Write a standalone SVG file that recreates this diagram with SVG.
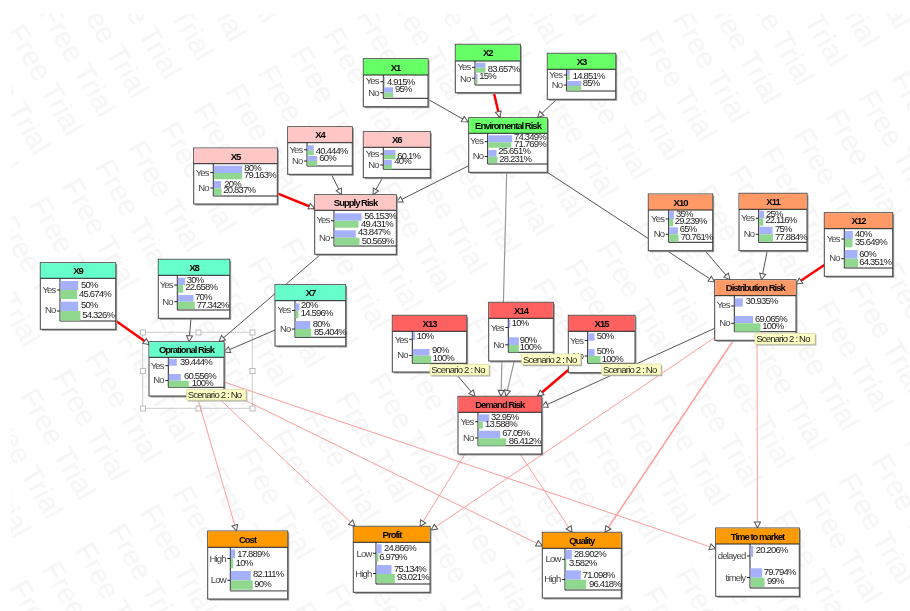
<svg xmlns="http://www.w3.org/2000/svg" width="910" height="611" viewBox="0 0 910 611">
<style>
text{font-family:"Liberation Sans",Arial,sans-serif;font-size:9.5px;letter-spacing:-.8px}
.wm{font-size:29px;letter-spacing:0;fill:#f5f5f5}
.box{fill:#fff;stroke:#444;stroke-width:1}
.sh{fill:#999}
.t{font-weight:bold;text-anchor:middle;fill:#000;letter-spacing:-1px}
.l{text-anchor:end;fill:#444}
.p{fill:#222}
.b{fill:#a6b1fb}
.g{fill:#90d890}
.ax{stroke:#222;stroke-width:1;fill:none}
.en{fill:#66ff66}.su{fill:#ffc6c6}.op{fill:#66ffcc}.di{fill:#ff9966}.de{fill:#ff6060}.ou{fill:#ff9900}
.c{fill:none;stroke:#555;stroke-width:1;marker-end:url(#ah)}
.c2{fill:none;stroke:#999;stroke-width:1.2;marker-end:url(#ah)}
.r{fill:none;stroke:#f00;stroke-width:2.5;marker-end:url(#ahr)}
.k{fill:none;stroke:#ff9c9c;stroke-width:1;marker-end:url(#ah)}
.tip{fill:#ffffc4;stroke:#d8d8a0;stroke-width:.7}
.tips{fill:#aaa}
.sel{fill:none;stroke:#ccc;stroke-width:1}
.hd{fill:#fff;stroke:#bbb;stroke-width:1}
svg>g{filter:url(#soft)}
</style>
<defs>
<filter id="soft" x="-5%" y="-5%" width="110%" height="110%"><feGaussianBlur stdDeviation="0.35"/></filter>
<marker id="ah" markerUnits="userSpaceOnUse" markerWidth="9" markerHeight="9" refX="7" refY="4" orient="auto"><path d="M1 1 L7 4 L1 7 Z" fill="#fff" stroke="#555" stroke-width="1"/></marker>
<marker id="ahr" markerUnits="userSpaceOnUse" markerWidth="9" markerHeight="9" refX="7" refY="4" orient="auto"><path d="M1 1 L7 4 L1 7 Z" fill="#fff" stroke="#555" stroke-width="1"/></marker>
<pattern id="wmp" patternUnits="userSpaceOnUse" width="160.9" height="37.7" patternTransform="translate(628 42) rotate(60) skewY(-3.1)">
<text class="wm" transform="skewY(3.1)" x="2" y="26">Free Trial</text>
</pattern>
</defs>
<rect width="910" height="611" fill="#fff"/>
<rect id="watermark" x="11" y="14" width="899" height="597" fill="url(#wmp)"/>

<g id="selection">
<rect class="sel" x="142.7" y="332.3" width="109.6" height="76"/>
<rect class="hd" x="140.5" y="330" width="5" height="5"/><rect class="hd" x="196" y="330" width="5" height="5"/><rect class="hd" x="250" y="330" width="5" height="5"/>
<rect class="hd" x="140.5" y="368.5" width="5" height="5"/><rect class="hd" x="250" y="368.5" width="5" height="5"/>
<rect class="hd" x="140.5" y="406" width="5" height="5"/><rect class="hd" x="196" y="406" width="5" height="5"/><rect class="hd" x="250" y="406" width="5" height="5"/>
</g>

<g id="connectors">
<path class="c" d="M428 99.3L468 122"/>
<path class="r" d="M494 93.3L499.7 117.5"/>
<path class="c" d="M556.7 99.3L537.5 117.5"/>
<path class="c" d="M468.7 165.7L396.5 202"/>
<path class="c" d="M382.3 178.3L373 194.7"/>
<path class="c" d="M331.7 175L341.5 194.7"/>
<path class="r" d="M277.3 193.3L314.7 208.5"/>
<path class="c" d="M547.3 172.3L714.7 282"/>
<path class="c2" d="M506.7 173L501 396.3"/>
<path class="c2" d="M514.3 361L506 396.3"/>
<path class="c" d="M446 362L475 396.3"/>
<path class="r" d="M568.3 370L537.5 396.3"/>
<path class="c" d="M714.7 328.3L541.7 407"/>
<path class="c" d="M705 250.7L730 279.7"/>
<path class="c" d="M767.3 250.7L761.5 279.7"/>
<path class="r" d="M824.3 265L796 284"/>
<path class="c" d="M320 255L219 341.7"/>
<path class="c" d="M191 318.3L189 341.7"/>
<path class="c" d="M275 330L224 352"/>
<path class="r" d="M115.7 320.7L149.5 344.5"/>
<path class="k" d="M197 396L236.5 531"/>
<path class="k" d="M212 392L355 526.3"/>
<path class="k" d="M224 390L542.3 546"/>
<path class="k" d="M224 382L715.7 548.7"/>
<path class="k" d="M465 454L420 526.5"/>
<path class="k" d="M520 454L572 532.3"/>
<path class="k" d="M714 338L431 530"/>
<path class="k" style="stroke-width:1.5" d="M733 341L605 532.3"/>
<path class="k" d="M757 340L757.5 528"/>
</g>

<g id="X1"><rect class="sh" x="364.8" y="60.2" width="64.7" height="48"/><rect class="box" x="363.3" y="58.7" width="64.7" height="48"/><rect class="en" x="363.8" y="59.2" width="63.7" height="15.8"/><path class="ax" d="M363.3 75H428M383.3 75V98.3H428M380.3 81.7H383.3M380.3 92.7H383.3"/>
<text class="t" x="395.6" y="70.5">X1</text><text class="l" x="378.8" y="84">Yes</text><text class="l" x="378.8" y="95.5">No</text>
<rect class="b" x="383.8" y="77" width="1" height="5"/><rect class="g" x="383.8" y="82" width="1" height="5"/><rect class="b" x="383.8" y="87.3" width="9.3" height="5.4"/><rect class="g" x="383.8" y="92.7" width="9.3" height="4.6"/>
<text class="p" x="387" y="85.2">4.915%</text><text class="p" x="395" y="92.2">95%</text></g>

<g id="X2"><rect class="sh" x="456.8" y="45.8" width="65" height="48.4"/><rect class="box" x="455.3" y="44.3" width="65" height="48.4"/><rect class="en" x="455.8" y="44.8" width="64" height="16.2"/><path class="ax" d="M455.3 61H520.3M475 61V85H520.3M472 67.3H475M472 78.3H475"/>
<text class="t" x="487.8" y="56">X2</text><text class="l" x="470.5" y="70">Yes</text><text class="l" x="470.5" y="81.5">No</text>
<rect class="b" x="475.5" y="62.7" width="10" height="5"/><rect class="g" x="475.5" y="67.7" width="10" height="5"/><rect class="b" x="475.5" y="74" width="2" height="5"/><rect class="g" x="475.5" y="79" width="2" height="5.3"/>
<text class="p" x="487.7" y="71.9">83.657%</text><text class="p" x="479.3" y="79.2">15%</text></g>

<g id="X3"><rect class="sh" x="548.8" y="54.8" width="68.4" height="46"/><rect class="box" x="547.3" y="53.3" width="68.4" height="46"/><rect class="en" x="547.8" y="53.8" width="67.4" height="15.5"/><path class="ax" d="M547.3 69.3H615.7M566.7 69.3V91H615.7M563.7 75H566.7M563.7 85H566.7"/>
<text class="t" x="581.5" y="64.5">X3</text><text class="l" x="562.2" y="78.2">Yes</text><text class="l" x="562.2" y="88.2">No</text>
<rect class="b" x="567.2" y="70" width="2.5" height="5"/><rect class="g" x="567.2" y="75" width="2.5" height="5"/><rect class="b" x="567.2" y="81" width="14" height="5"/><rect class="g" x="567.2" y="86" width="14" height="4.7"/>
<text class="p" x="572.7" y="78.9">14.851%</text><text class="p" x="582.7" y="85.9">85%</text></g>

<g id="EnviromentalRisk"><rect class="sh" x="470.2" y="119.2" width="78.6" height="54.6"/><rect class="box" x="468.7" y="117.7" width="78.6" height="54.6"/><rect class="en" x="469.2" y="118.2" width="77.6" height="15.1"/><path class="ax" d="M468.7 133.3H547.3M487.7 133.3V164H547.3M484.7 141.7H487.7M484.7 156.5H487.7"/>
<text class="t" x="508" y="128.8">Enviromental Risk</text><text class="l" x="483.2" y="144.2">Yes</text><text class="l" x="483.2" y="159.2">No</text>
<rect class="b" x="488.2" y="135.3" width="24" height="7"/><rect class="g" x="488.2" y="142.3" width="23" height="5.4"/><rect class="b" x="488.2" y="150" width="8.3" height="6.7"/><rect class="g" x="488.2" y="156.7" width="9.3" height="6.6"/>
<text class="p" x="514" y="139.9">74.349%</text><text class="p" x="514" y="146.9">71.769%</text><text class="p" x="498.3" y="153.9">25.651%</text><text class="p" x="499.3" y="162.2">28.231%</text></g>

<g id="X6"><rect class="sh" x="364.8" y="133.2" width="67" height="46"/><rect class="box" x="363.3" y="131.7" width="67" height="46"/><rect class="su" x="363.8" y="132.2" width="66" height="15.1"/><path class="ax" d="M363.3 147.3H430.3M383.3 147.3V169.3H430.3M380.3 154H383.3M380.3 165H383.3"/>
<text class="t" x="396.8" y="143">X6</text><text class="l" x="378.8" y="156.5">Yes</text><text class="l" x="378.8" y="167.5">No</text>
<rect class="b" x="383.8" y="150" width="11.7" height="5"/><rect class="g" x="383.8" y="155" width="11.7" height="4.3"/><rect class="b" x="383.8" y="160" width="8" height="5"/><rect class="g" x="383.8" y="165" width="8" height="4.3"/>
<text class="p" x="397.3" y="158.5">60.1%</text><text class="p" x="394.3" y="163.9">40%</text></g>

<g id="X5"><rect class="sh" x="195.2" y="149.5" width="83.6" height="56"/><rect class="box" x="193.7" y="148" width="83.6" height="56"/><rect class="su" x="194.2" y="148.5" width="82.6" height="15.2"/><path class="ax" d="M193.7 163.7H277.3M213.3 163.7V196H277.3M210.3 172.5H213.3M210.3 188H213.3"/>
<text class="t" x="235.5" y="159.5">X5</text><text class="l" x="208.8" y="175.5">Yes</text><text class="l" x="208.8" y="191">No</text>
<rect class="b" x="213.8" y="165.7" width="28.3" height="7.3"/><rect class="g" x="213.8" y="173" width="28.3" height="6.3"/><rect class="b" x="213.8" y="181" width="7.3" height="7.3"/><rect class="g" x="213.8" y="188.3" width="7.7" height="7"/>
<text class="p" x="244.3" y="170.9">80%</text><text class="p" x="244" y="178.2">79.163%</text><text class="p" x="224.3" y="186.5">20%</text><text class="p" x="223.3" y="193.2">20.837%</text></g>

<g id="X4"><rect class="sh" x="289.2" y="128.2" width="64.6" height="47.6"/><rect class="box" x="287.7" y="126.7" width="64.6" height="47.6"/><rect class="su" x="288.2" y="127.2" width="63.6" height="15.5"/><path class="ax" d="M287.7 142.7H352.3M307 142.7V166H352.3M304 149.8H307M304 161H307"/>
<text class="t" x="320" y="138">X4</text><text class="l" x="302.5" y="152.5">Yes</text><text class="l" x="302.5" y="163.9">No</text>
<rect class="b" x="307.5" y="145.3" width="6.3" height="5.4"/><rect class="g" x="307.5" y="150.7" width="6.3" height="4.6"/><rect class="b" x="307.5" y="156" width="9.7" height="5"/><rect class="g" x="307.5" y="161" width="9.7" height="4.7"/>
<text class="p" x="315.7" y="154.2">40.444%</text><text class="p" x="319.3" y="160.9">60%</text></g>

<g id="SupplyRisk"><rect class="sh" x="316.2" y="196.2" width="81.6" height="59.6"/><rect class="box" x="314.7" y="194.7" width="81.6" height="59.6"/><rect class="su" x="315.2" y="195.2" width="80.6" height="15.1"/><path class="ax" d="M314.7 210.3H396.3M334 210.3V246H396.3M331 220.7H334M331 237.7H334"/>
<text class="t" x="355.5" y="206">Supply Risk</text><text class="l" x="329.5" y="223.2">Yes</text><text class="l" x="329.5" y="240.5">No</text>
<rect class="b" x="334.5" y="213.3" width="27" height="7.4"/><rect class="g" x="334.5" y="220.7" width="24" height="7"/><rect class="b" x="334.5" y="230.3" width="21.3" height="7.4"/><rect class="g" x="334.5" y="237.7" width="25" height="7.6"/>
<text class="p" x="364.3" y="218.9">56.153%</text><text class="p" x="361" y="226.5">49.431%</text><text class="p" x="358" y="235.2">43.847%</text><text class="p" x="361.7" y="243.5">50.569%</text></g>

<g id="X9"><rect class="sh" x="41.8" y="264.2" width="75.4" height="66.6"/><rect class="box" x="40.3" y="262.7" width="75.4" height="66.6"/><rect class="op" x="40.8" y="263.2" width="74.4" height="15.1"/><path class="ax" d="M40.3 278.3H115.7M60 278.3V321H115.7M57 290H60M57 311H60"/>
<text class="t" x="78" y="274">X9</text><text class="l" x="55.5" y="292.5">Yes</text><text class="l" x="55.5" y="313.2">No</text>
<rect class="b" x="60.5" y="281" width="17.7" height="9"/><rect class="g" x="60.5" y="290" width="16.7" height="9"/><rect class="b" x="60.5" y="301.7" width="17.7" height="9.3"/><rect class="g" x="60.5" y="311" width="20" height="9.7"/>
<text class="p" x="81" y="287.5">50%</text><text class="p" x="79" y="296.5">45.674%</text><text class="p" x="81" y="308.2">50%</text><text class="p" x="82.3" y="318.2">54.326%</text></g>

<g id="X8"><rect class="sh" x="159.8" y="260.8" width="71.4" height="59"/><rect class="box" x="158.3" y="259.3" width="71.4" height="59"/><rect class="op" x="158.8" y="259.8" width="70.4" height="15.5"/><path class="ax" d="M158.3 275.3H229.7M177.3 275.3V310H229.7M174.3 285H177.3M174.3 301.7H177.3"/>
<text class="t" x="194" y="270.5">X8</text><text class="l" x="172.8" y="287.5">Yes</text><text class="l" x="172.8" y="304.9">No</text>
<rect class="b" x="177.8" y="277.7" width="7.3" height="7.3"/><rect class="g" x="177.8" y="285" width="5.3" height="7.7"/><rect class="b" x="177.8" y="295" width="15.7" height="6.7"/><rect class="g" x="177.8" y="301.7" width="17" height="7.3"/>
<text class="p" x="186.7" y="282.5">30%</text><text class="p" x="185.3" y="290.2">22.658%</text><text class="p" x="195" y="299.9">70%</text><text class="p" x="196.7" y="307.5">77.342%</text></g>

<g id="X7"><rect class="sh" x="276.5" y="286.2" width="70.7" height="61.3"/><rect class="box" x="275" y="284.7" width="70.7" height="61.3"/><rect class="op" x="275.5" y="285.2" width="69.7" height="15.5"/><path class="ax" d="M275 300.7H345.7M295 300.7V337.3H345.7M292 310.5H295M292 329H295"/>
<text class="t" x="310.5" y="296">X7</text><text class="l" x="290.5" y="313.2">Yes</text><text class="l" x="290.5" y="331.5">No</text>
<rect class="b" x="295.5" y="303.3" width="4" height="7.4"/><rect class="g" x="295.5" y="310.7" width="3" height="7.6"/><rect class="b" x="295.5" y="321" width="14.7" height="8"/><rect class="g" x="295.5" y="329" width="15.7" height="8"/>
<text class="p" x="301" y="308.2">20%</text><text class="p" x="300.7" y="315.9">14.596%</text><text class="p" x="312.7" y="326.5">80%</text><text class="p" x="314" y="334.9">85.404%</text></g>

<g id="OprationalRisk"><rect class="sh" x="150.5" y="343.2" width="75" height="54.3"/><rect class="box" x="149" y="341.7" width="75" height="54.3"/><rect class="op" x="149.5" y="342.2" width="74" height="15.1"/><path class="ax" d="M149 357.3H224M168.3 357.3V387.3H224M165.3 365.7H168.3M165.3 380.5H168.3"/>
<text class="t" x="186.5" y="353">Oprational Risk</text><text class="l" x="163.8" y="368.9">Yes</text><text class="l" x="163.8" y="383.2">No</text>
<rect class="b" x="168.8" y="359" width="8" height="6.7"/><rect class="b" x="168.8" y="374" width="12" height="6.7"/><rect class="g" x="168.8" y="380.7" width="20" height="6.6"/>
<text class="p" x="180" y="364.9">39.444%</text><text class="p" x="184" y="379.2">60.556%</text><text class="p" x="191.7" y="385.9">100%</text></g>

<g id="X13"><rect class="sh" x="393.8" y="316.8" width="74.4" height="56.7"/><rect class="box" x="392.3" y="315.3" width="74.4" height="56.7"/><rect class="de" x="392.8" y="315.8" width="73.4" height="15.5"/><path class="ax" d="M392.3 331.3H466.7M412.3 331.3V363.3H466.7M409.3 339.3H412.3M409.3 355.5H412.3"/>
<text class="t" x="429.5" y="326.5">X13</text><text class="l" x="407.8" y="342.5">Yes</text><text class="l" x="407.8" y="358.2">No</text>
<rect class="b" x="412.8" y="332.3" width="2.3" height="7.7"/><rect class="b" x="412.8" y="349" width="16.7" height="6.7"/><rect class="g" x="412.8" y="355.7" width="18.3" height="7.6"/>
<text class="p" x="416.7" y="338.9">10%</text><text class="p" x="432" y="353.2">90%</text><text class="p" x="432.7" y="360.5">100%</text></g>

<g id="X14"><rect class="sh" x="490.2" y="303.8" width="64.6" height="58.7"/><rect class="box" x="488.7" y="302.3" width="64.6" height="58.7"/><rect class="de" x="489.2" y="302.8" width="63.6" height="15.5"/><path class="ax" d="M488.7 318.3H553.3M508.3 318.3V352.3H553.3M505.3 327.5H508.3M505.3 344.8H508.3"/>
<text class="t" x="521" y="313.5">X14</text><text class="l" x="503.8" y="330.5">Yes</text><text class="l" x="503.8" y="347.5">No</text>
<rect class="b" x="508.8" y="320" width="1.5" height="7.7"/><rect class="b" x="508.8" y="337.3" width="10" height="7.7"/><rect class="g" x="508.8" y="345" width="10" height="7.3"/>
<text class="p" x="511.7" y="326.2">10%</text><text class="p" x="519.7" y="342.5">90%</text><text class="p" x="519.7" y="349.9">100%</text></g>

<g id="X15"><rect class="sh" x="569.8" y="316.8" width="66.7" height="57.4"/><rect class="box" x="568.3" y="315.3" width="66.7" height="57.4"/><rect class="de" x="568.8" y="315.8" width="65.7" height="15.5"/><path class="ax" d="M568.3 331.3H635M587.7 331.3V363.3H635M584.7 340.5H587.7M584.7 356H587.7"/>
<text class="t" x="601.5" y="326.5">X15</text><text class="l" x="583.2" y="343.5">Yes</text><text class="l" x="583.2" y="359">No</text>
<rect class="b" x="588.2" y="333.3" width="6.3" height="7.4"/><rect class="b" x="588.2" y="349" width="6.3" height="7"/><rect class="g" x="588.2" y="356" width="12.3" height="7.3"/>
<text class="p" x="596.7" y="338.9">50%</text><text class="p" x="596.7" y="354.2">50%</text><text class="p" x="601.7" y="361.5">100%</text></g>

<g id="DemandRisk"><rect class="sh" x="459.5" y="397.8" width="83.7" height="57.7"/><rect class="box" x="458" y="396.3" width="83.7" height="57.7"/><rect class="de" x="458.5" y="396.8" width="82.7" height="15.5"/><path class="ax" d="M458 412.3H541.7M478 412.3V445.7H541.7M475 421.7H478M475 438H478"/>
<text class="t" x="499.8" y="407.5">Demand Risk</text><text class="l" x="473.5" y="424.9">Yes</text><text class="l" x="473.5" y="440.5">No</text>
<rect class="b" x="478.5" y="414.3" width="10.7" height="7.4"/><rect class="g" x="478.5" y="421.7" width="4.3" height="7"/><rect class="b" x="478.5" y="430.7" width="21.7" height="7.6"/><rect class="g" x="478.5" y="438.3" width="27.7" height="7.4"/>
<text class="p" x="491" y="419.9">32.95%</text><text class="p" x="485" y="426.9">13.588%</text><text class="p" x="502.3" y="436.2">67.05%</text><text class="p" x="508.7" y="443.5">86.412%</text></g>

<g id="X10"><rect class="sh" x="649.8" y="195.5" width="64.4" height="56.7"/><rect class="box" x="648.3" y="194" width="64.4" height="56.7"/><rect class="di" x="648.8" y="194.5" width="63.4" height="15.5"/><path class="ax" d="M648.3 210H712.7M668.7 210V242.3H712.7M665.7 219H668.7M665.7 234.3H668.7"/>
<text class="t" x="680.5" y="205.5">X10</text><text class="l" x="664.2" y="221.5">Yes</text><text class="l" x="664.2" y="236.5">No</text>
<rect class="b" x="669.2" y="211" width="4.7" height="8"/><rect class="g" x="669.2" y="219" width="4" height="7.3"/><rect class="b" x="669.2" y="227.3" width="8.7" height="7"/><rect class="g" x="669.2" y="234.3" width="9.3" height="7.4"/>
<text class="p" x="676" y="217.2">35%</text><text class="p" x="674.7" y="224.2">29.239%</text><text class="p" x="679.7" y="232.2">65%</text><text class="p" x="680.7" y="239.5">70.761%</text></g>

<g id="X11"><rect class="sh" x="740.5" y="194.8" width="68" height="57.4"/><rect class="box" x="739" y="193.3" width="68" height="57.4"/><rect class="di" x="739.5" y="193.8" width="67" height="15.5"/><path class="ax" d="M739 209.3H807M758.7 209.3V242.3H807M755.7 218.3H758.7M755.7 234.3H758.7"/>
<text class="t" x="773" y="205">X11</text><text class="l" x="754.2" y="220.5">Yes</text><text class="l" x="754.2" y="237.2">No</text>
<rect class="b" x="759.2" y="210.7" width="5" height="7.6"/><rect class="g" x="759.2" y="218.3" width="4" height="7.4"/><rect class="b" x="759.2" y="226.7" width="13.3" height="7.6"/><rect class="g" x="759.2" y="234.3" width="13.7" height="7.4"/>
<text class="p" x="766" y="216.5">25%</text><text class="p" x="765.3" y="223.2">22.116%</text><text class="p" x="775" y="232.2">75%</text><text class="p" x="775" y="239.5">77.884%</text></g>

<g id="X12"><rect class="sh" x="825.8" y="214.2" width="68.4" height="63.6"/><rect class="box" x="824.3" y="212.7" width="68.4" height="63.6"/><rect class="di" x="824.8" y="213.2" width="67.4" height="15.5"/><path class="ax" d="M824.3 228.7H892.7M844.3 228.7V268H892.7M841.3 239H844.3M841.3 258.7H844.3"/>
<text class="t" x="858.5" y="224">X12</text><text class="l" x="839.8" y="241.5">Yes</text><text class="l" x="839.8" y="260.9">No</text>
<rect class="b" x="844.8" y="231" width="8" height="8"/><rect class="g" x="844.8" y="239" width="7.7" height="8.3"/><rect class="b" x="844.8" y="250" width="12.7" height="8.7"/><rect class="g" x="844.8" y="258.7" width="13.3" height="8.3"/>
<text class="p" x="855" y="236.5">40%</text><text class="p" x="855" y="244.9">35.649%</text><text class="p" x="859.3" y="256.5">60%</text><text class="p" x="859.3" y="264.5">64.351%</text></g>

<g id="DistributionRisk"><rect class="sh" x="716.2" y="281.2" width="81.3" height="60.6"/><rect class="box" x="714.7" y="279.7" width="81.3" height="60.6"/><rect class="di" x="715.2" y="280.2" width="80.3" height="15.5"/><path class="ax" d="M714.7 295.7H796M734.3 295.7V331.7H796M731.3 306H734.3M731.3 323.3H734.3"/>
<text class="t" x="755.3" y="291">Distribution Risk</text><text class="l" x="729.8" y="308.2">Yes</text><text class="l" x="729.8" y="326.2">No</text>
<rect class="b" x="734.8" y="298.3" width="8" height="8.4"/><rect class="b" x="734.8" y="316" width="18.3" height="7.3"/><rect class="g" x="734.8" y="323.3" width="25.7" height="8.4"/>
<text class="p" x="745.7" y="304.2">30.935%</text><text class="p" x="755" y="321.5">69.065%</text><text class="p" x="762.3" y="329.2">100%</text></g>

<g id="Cost"><rect class="sh" x="209.2" y="532.5" width="80" height="68"/><rect class="box" x="207.7" y="531" width="80" height="68"/><rect class="ou" x="208.2" y="531.5" width="79" height="15.8"/><path class="ax" d="M207.7 547.3H287.7M230.3 547.3V590.7H287.7M227.3 558.5H230.3M227.3 580.3H230.3"/>
<rect x="230" y="590" width="57.7" height="1.5" fill="#888"/>
<text class="t" x="247.5" y="542.5">Cost</text><text class="l" x="225.8" y="561.9">High</text><text class="l" x="225.8" y="583.2">Low</text>
<rect class="b" x="230.8" y="549.3" width="4.3" height="9"/><rect class="g" x="230.8" y="558.3" width="2.3" height="10"/><rect class="b" x="230.8" y="571" width="20" height="9.3"/><rect class="g" x="230.8" y="580.3" width="22" height="9.4"/>
<text class="p" x="237.3" y="556.5">17.889%</text><text class="p" x="235.7" y="565.5">10%</text><text class="p" x="253" y="577.2">82.111%</text><text class="p" x="254.3" y="586.5">90%</text></g>

<g id="Profit"><rect class="sh" x="354.8" y="527.8" width="76.7" height="66"/><rect class="box" x="353.3" y="526.3" width="76.7" height="66"/><rect class="ou" x="353.8" y="526.8" width="75.7" height="15.5"/><path class="ax" d="M353.3 542.3H430M376 542.3V584H430M373 553.3H376M373 573.5H376"/>
<text class="t" x="392" y="538">Profit</text><text class="l" x="371.5" y="556.5">Low</text><text class="l" x="371.5" y="576.5">High</text>
<rect class="b" x="376.5" y="544.3" width="5" height="9"/><rect class="g" x="376.5" y="553.3" width="2" height="8.4"/><rect class="b" x="376.5" y="565" width="15" height="9"/><rect class="g" x="376.5" y="574" width="18.3" height="9"/>
<text class="p" x="384" y="550.9">24.866%</text><text class="p" x="379.3" y="559.5">6.979%</text><text class="p" x="394" y="571.5">75.134%</text><text class="p" x="397" y="580.2">93.021%</text></g>

<g id="Quality"><rect class="sh" x="543.8" y="533.8" width="79" height="65.7"/><rect class="box" x="542.3" y="532.3" width="79" height="65.7"/><rect class="ou" x="542.8" y="532.8" width="78" height="15.5"/><path class="ax" d="M542.3 548.3H621.3M565 548.3V590H621.3M562 559.3H565M562 579.5H565"/>
<text class="t" x="581.8" y="544">Quality</text><text class="l" x="560.5" y="562.2">Low</text><text class="l" x="560.5" y="582.2">High</text>
<rect class="b" x="565.5" y="550" width="6.3" height="9.3"/><rect class="g" x="565.5" y="559.3" width="1" height="9"/><rect class="b" x="565.5" y="570.3" width="15.3" height="9.4"/><rect class="g" x="565.5" y="579.7" width="20.7" height="9.3"/>
<text class="p" x="574" y="557.2">28.902%</text><text class="p" x="569" y="565.5">3.582%</text><text class="p" x="582.7" y="577.5">71.098%</text><text class="p" x="589" y="586.5">96.418%</text></g>

<g id="TimeToMarket"><rect class="sh" x="717.2" y="529.5" width="83.6" height="68.3"/><rect class="box" x="715.7" y="528" width="83.6" height="68.3"/><rect class="ou" x="716.2" y="528.5" width="82.6" height="15.5"/><path class="ax" d="M715.7 544H799.3M750 544V588H799.3M747 556H750M747 577.5H750"/>
<text class="t" x="757.5" y="539.5">Time to market</text><text class="l" x="745.5" y="558.9">delayed</text><text class="l" x="745.5" y="580.5">timely</text>
<rect class="b" x="750.5" y="546" width="2.7" height="10.7"/><rect class="b" x="750.5" y="568.3" width="11.7" height="9.4"/><rect class="g" x="750.5" y="577.7" width="14" height="9.3"/>
<text class="p" x="755.7" y="553.2">20.206%</text><text class="p" x="763.7" y="575.2">79.794%</text><text class="p" x="767" y="584.2">99%</text></g>

<g id="tooltips">
<rect class="tips" x="188" y="390.5" width="59.3" height="11"/><rect class="tip" x="186.7" y="389.3" width="59.3" height="10.8"/><text class="p" x="187.8" y="398">Scenario 2 : No</text>
<rect class="tips" x="431.3" y="365.5" width="59" height="11"/><rect class="tip" x="430" y="364.3" width="59" height="10.8"/><text class="p" x="431.2" y="373">Scenario 2 : No</text>
<rect class="tips" x="523" y="355.2" width="59" height="11"/><rect class="tip" x="521.7" y="354" width="59" height="10.8"/><text class="p" x="522.9" y="362.7">Scenario 2 : No</text>
<rect class="tips" x="603" y="365.2" width="59.3" height="11"/><rect class="tip" x="601.7" y="364" width="59.3" height="10.8"/><text class="p" x="602.9" y="372.7">Scenario 2 : No</text>
<rect class="tips" x="756.3" y="334.5" width="60" height="11"/><rect class="tip" x="755" y="333.3" width="60" height="10.8"/><text class="p" x="756.2" y="342">Scenario 2 : No</text>
</g>
</svg>
